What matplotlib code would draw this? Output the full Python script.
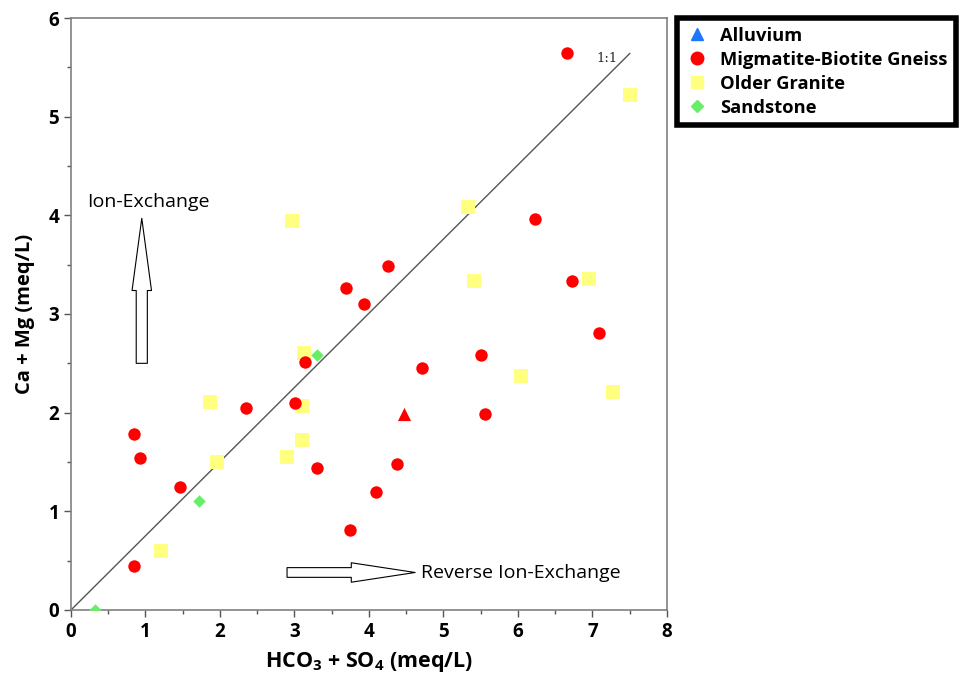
import matplotlib
matplotlib.use("Agg")
import matplotlib.pyplot as plt
from matplotlib.lines import Line2D
import numpy as np

plt.rcParams['font.family'] = ['Open Sans', 'DejaVu Sans']
plt.rcParams['mathtext.fontset'] = 'custom'
plt.rcParams['mathtext.rm'] = 'Open Sans:bold'
plt.rcParams['mathtext.it'] = 'Open Sans:bold'
plt.rcParams['mathtext.default'] = 'regular'

# Migmatite-Biotite Gneiss
mbg_x = [6.66, 6.23, 4.26, 3.69, 3.93, 6.72, 7.09, 3.14, 4.71, 5.51, 2.35, 3.01,
         0.85, 0.93, 1.46, 3.30, 4.38, 4.09, 3.74, 0.85, 5.56]
mbg_y = [5.65, 3.96, 3.49, 3.26, 3.10, 3.33, 2.81, 2.51, 2.45, 2.58, 2.05, 2.10,
         1.78, 1.54, 1.25, 1.44, 1.48, 1.20, 0.81, 0.45, 1.99]

# Older Granite
og_x = [7.50, 5.33, 2.97, 5.41, 6.95, 3.13, 6.04, 7.28, 1.87, 3.10, 3.10, 1.96, 2.90, 1.21]
og_y = [5.22, 4.08, 3.94, 3.33, 3.35, 2.60, 2.37, 2.21, 2.11, 2.07, 1.72, 1.50, 1.55, 0.60]

# Sandstone
ss_x = [3.30, 1.72, 0.32]
ss_y = [2.58, 1.10, 0.0]

# Alluvium
al_x = [4.47]
al_y = [1.99]

# 1:1 reference line as drawn
line_x = [0, 7.5]
line_y = [0, 5.64]

fig = plt.figure(figsize=(9.7, 6.82), dpi=100)
ax = fig.add_axes([0.0732, 0.1056, 0.6144, 0.868])

ax.plot(line_x, line_y, color='#555555', linewidth=1.0, zorder=1)
ax.text(7.05, 5.55, '1:1', family='DejaVu Serif', fontsize=9.5, color='#222222')

ax.scatter(og_x, og_y, marker='s', s=90, color='#ffff80', zorder=2, linewidths=0)
ax.scatter(mbg_x, mbg_y, marker='o', s=80, color='#ff0000', zorder=3, linewidths=0)
ax.scatter(ss_x, ss_y, marker='D', s=40, color='#66ee66', zorder=4, linewidths=0)
ax.scatter(al_x, al_y, marker='^', s=90, color='#ff0000', zorder=4, linewidths=0)

# hollow arrows
ax.annotate('', xy=(0.95, 3.97), xytext=(0.95, 2.50),
            arrowprops=dict(arrowstyle='simple,head_length=52,head_width=14,tail_width=8',
                            mutation_scale=1, fc='white', ec='black', lw=0.8,
                            shrinkA=0, shrinkB=0))
ax.annotate('', xy=(4.62, 0.38), xytext=(2.90, 0.38),
            arrowprops=dict(arrowstyle='simple,head_length=46,head_width=14,tail_width=7',
                            mutation_scale=1, fc='white', ec='black', lw=0.8,
                            shrinkA=0, shrinkB=0))
ax.text(1.04, 4.14, 'Ion-Exchange', ha='center', va='center', fontsize=14)
ax.text(4.7, 0.37, 'Reverse Ion-Exchange', ha='left', va='center', fontsize=14)

ax.set_xlim(0, 8)
ax.set_ylim(0, 6)
ax.set_xticks(np.arange(0, 9, 1))
ax.set_yticks(np.arange(0, 7, 1))
ax.set_xticks(np.arange(0, 8.01, 0.5), minor=True)
ax.set_yticks(np.arange(0, 6.01, 0.5), minor=True)
ax.tick_params(which='major', length=5, width=1, color='#555555', labelsize=13.5)
ax.tick_params(which='minor', length=3, width=1, color='#555555')
for lab in ax.get_xticklabels() + ax.get_yticklabels():
    lab.set_fontweight('bold')
for sp in ax.spines.values():
    sp.set_color('#808080')
    sp.set_linewidth(1.2)

ax.set_xlabel('HCO$_3$ + SO$_4$ (meq/L)', fontsize=15.5, fontweight='bold', labelpad=6)
ax.set_ylabel('Ca + Mg (meq/L)', fontsize=14.5, fontweight='bold', labelpad=10)

handles = [
    Line2D([], [], marker='^', linestyle='none', color='#1e78ff', markersize=9),
    Line2D([], [], marker='o', linestyle='none', color='#ff0000', markersize=9),
    Line2D([], [], marker='s', linestyle='none', color='#ffff80', markersize=9),
    Line2D([], [], marker='D', linestyle='none', color='#66ee66', markersize=6),
]
labels = ['Alluvium', 'Migmatite-Biotite Gneiss', 'Older Granite', 'Sandstone']
leg = fig.legend(handles, labels, loc='upper left', bbox_to_anchor=(0.698, 0.973),
                 borderaxespad=0, frameon=True, fancybox=False, framealpha=1,
                 handletextpad=0.6, labelspacing=0.33, borderpad=0.45,
                 handlelength=1.3, prop={'weight': 'bold', 'size': 13.2})
leg.get_frame().set_edgecolor('black')
leg.get_frame().set_linewidth(4)

fig.savefig('out.png', dpi=100)
